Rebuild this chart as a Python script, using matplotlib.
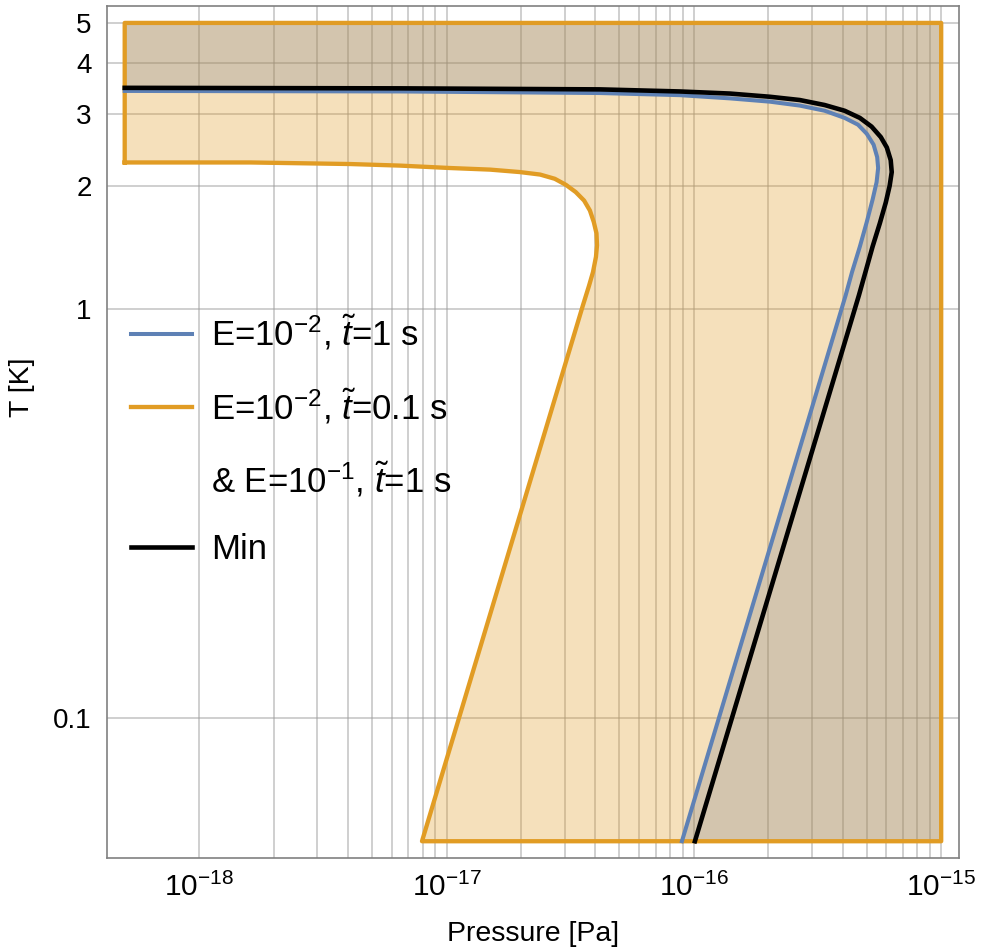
import matplotlib
matplotlib.use("Agg")  # no display
import matplotlib.pyplot as plt
from matplotlib.lines import Line2D
from matplotlib.ticker import FixedLocator, FixedFormatter, NullFormatter, LogFormatterSciNotation

plt.rcParams['font.family'] = ['Liberation Sans', 'DejaVu Sans']
plt.rcParams['mathtext.fontset'] = 'custom'
plt.rcParams['mathtext.rm'] = 'Liberation Sans'
plt.rcParams['mathtext.it'] = 'Liberation Sans:italic'
plt.rcParams['mathtext.bf'] = 'Liberation Sans:bold'

# box limits of the shaded regions
p_left, p_right = 5e-19, 1e-15
t_bottom, t_top = 0.05, 5.0

# "Min" curve (black)
p_min = [5e-19, 6.49e-18, 4.17e-17, 8.77e-17, 1.40e-16, 2.03e-16, 2.68e-16, 3.38e-16,
         4.07e-16, 4.69e-16, 5.23e-16, 5.70e-16, 6.03e-16, 6.25e-16, 6.31e-16, 6.19e-16,
         5.97e-16, 5.65e-16, 5.28e-16, 4.94e-16, 4.65e-16, 1.01e-16]
t_min = [3.47, 3.46, 3.44, 3.40, 3.36, 3.30, 3.24, 3.15,
         3.05, 2.93, 2.79, 2.63, 2.48, 2.31, 2.16, 2.00,
         1.82, 1.62, 1.42, 1.23, 1.08, 0.05]

# E=1e-2, t=1 s (blue)
p_blue = [5e-19, 6.49e-18, 4.17e-17, 8.77e-17, 1.40e-16, 2.03e-16, 2.68e-16, 3.38e-16,
          4.07e-16, 4.61e-16, 5.00e-16, 5.33e-16, 5.51e-16, 5.56e-16, 5.48e-16, 5.28e-16,
          5.00e-16, 4.69e-16, 4.36e-16, 4.11e-16, 8.95e-17]
t_blue = [3.41, 3.40, 3.37, 3.33, 3.27, 3.21, 3.14, 3.05,
          2.93, 2.82, 2.68, 2.52, 2.35, 2.21, 2.04, 1.85,
          1.63, 1.42, 1.23, 1.08, 0.05]

# E=1e-2, t=0.1 s & E=1e-1, t=1 s (orange)
p_orange = [5e-19, 1.61e-18, 4.07e-18, 6.49e-18, 1.03e-17, 1.50e-17, 1.98e-17, 2.39e-17,
            2.74e-17, 3.04e-17, 3.33e-17, 3.60e-17, 3.80e-17, 3.94e-17, 4.04e-17, 4.06e-17,
            4.02e-17, 3.91e-17, 3.77e-17, 3.56e-17, 7.96e-18]
t_orange = [2.28, 2.28, 2.26, 2.24, 2.21, 2.19, 2.16, 2.13,
            2.08, 2.01, 1.93, 1.84, 1.74, 1.63, 1.53, 1.43,
            1.34, 1.23, 1.14, 1.02, 0.05]

labels = [r'E=$10^{-2}$, $\tilde{t}$=1 s',
          r'E=$10^{-2}$, $\tilde{t}$=0.1 s',
          r'& E=$10^{-1}$, $\tilde{t}$=1 s',
          'Min']
y_ticks = [0.1, 1, 2, 3, 4, 5]
y_tick_labels = ['0.1', '1', '2', '3', '4', '5']

blue = '#5E81B5'
orange = '#E19C24'

fig = plt.figure(figsize=(9.87, 9.51), dpi=100)
ax = fig.add_axes([0.1084, 0.0978, 0.8632, 0.8959])
ax.set_xscale('log')
ax.set_yscale('log')
ax.set_xlim(4.24e-19, 1.18e-15)
ax.set_ylim(0.0455, 5.5)

# shaded regions
ax.fill(p_orange + [p_right, p_right, p_left], t_orange + [t_bottom, t_top, t_top],
        color=orange, alpha=0.31, lw=0, zorder=1)
ax.fill(p_blue + [p_right, p_right, p_left], t_blue + [t_bottom, t_top, t_top],
        color=(113/255, 120/255, 137/255), alpha=0.25, lw=0, zorder=1.5)

# outlines
ax.plot(p_orange + [p_right, p_right, p_left, p_orange[0]],
        t_orange + [t_bottom, t_top, t_top, t_orange[0]],
        color=orange, lw=3.1, solid_joinstyle='round', zorder=3)
ax.plot(p_blue, t_blue, color=blue, lw=2.9, solid_joinstyle='round', zorder=4)
ax.plot(p_min, t_min, color='black', lw=3.3, solid_joinstyle='round', zorder=5)

# ticks and grid
decades = [1e-18, 1e-17, 1e-16, 1e-15]
ax.xaxis.set_major_locator(FixedLocator(decades))
ax.xaxis.set_major_formatter(LogFormatterSciNotation())
ax.xaxis.set_minor_locator(FixedLocator([d * k for d in decades[:-1] for k in range(2, 10)]))
ax.xaxis.set_minor_formatter(NullFormatter())
ax.yaxis.set_major_locator(FixedLocator(y_ticks))
ax.yaxis.set_major_formatter(FixedFormatter(y_tick_labels))
ax.yaxis.set_minor_locator(FixedLocator([]))
ax.grid(True, which='both', axis='x', color='#999999', alpha=0.5, lw=1.3, zorder=0)
ax.grid(True, which='major', axis='y', color='#999999', alpha=0.5, lw=1.3, zorder=0)
ax.set_axisbelow(True)
ax.tick_params(which='both', length=0)
ax.tick_params(axis='x', labelsize=21.5, pad=11)
ax.tick_params(axis='y', labelsize=20, pad=11)
for s in ax.spines.values():
    s.set_color('#808080')
    s.set_linewidth(1.2)

ax.set_xlabel('Pressure [Pa]', fontsize=20.5, labelpad=13)
ax.set_ylabel('T [K]', fontsize=20.5)
ax.yaxis.set_label_coords(-0.085, 0.553)

handles = [Line2D([], [], color=blue, lw=2.9),
           Line2D([], [], color=orange, lw=3.1),
           Line2D([], [], color='none', lw=0),
           Line2D([], [], color='black', lw=3.3)]
ax.legend(handles, labels, loc='upper left', bbox_to_anchor=(0.0, 0.668),
          frameon=False, fontsize=25, handlelength=1.75, handletextpad=0.55,
          labelspacing=0.97, borderaxespad=0.3)

plt.savefig("out.png", dpi=100)
